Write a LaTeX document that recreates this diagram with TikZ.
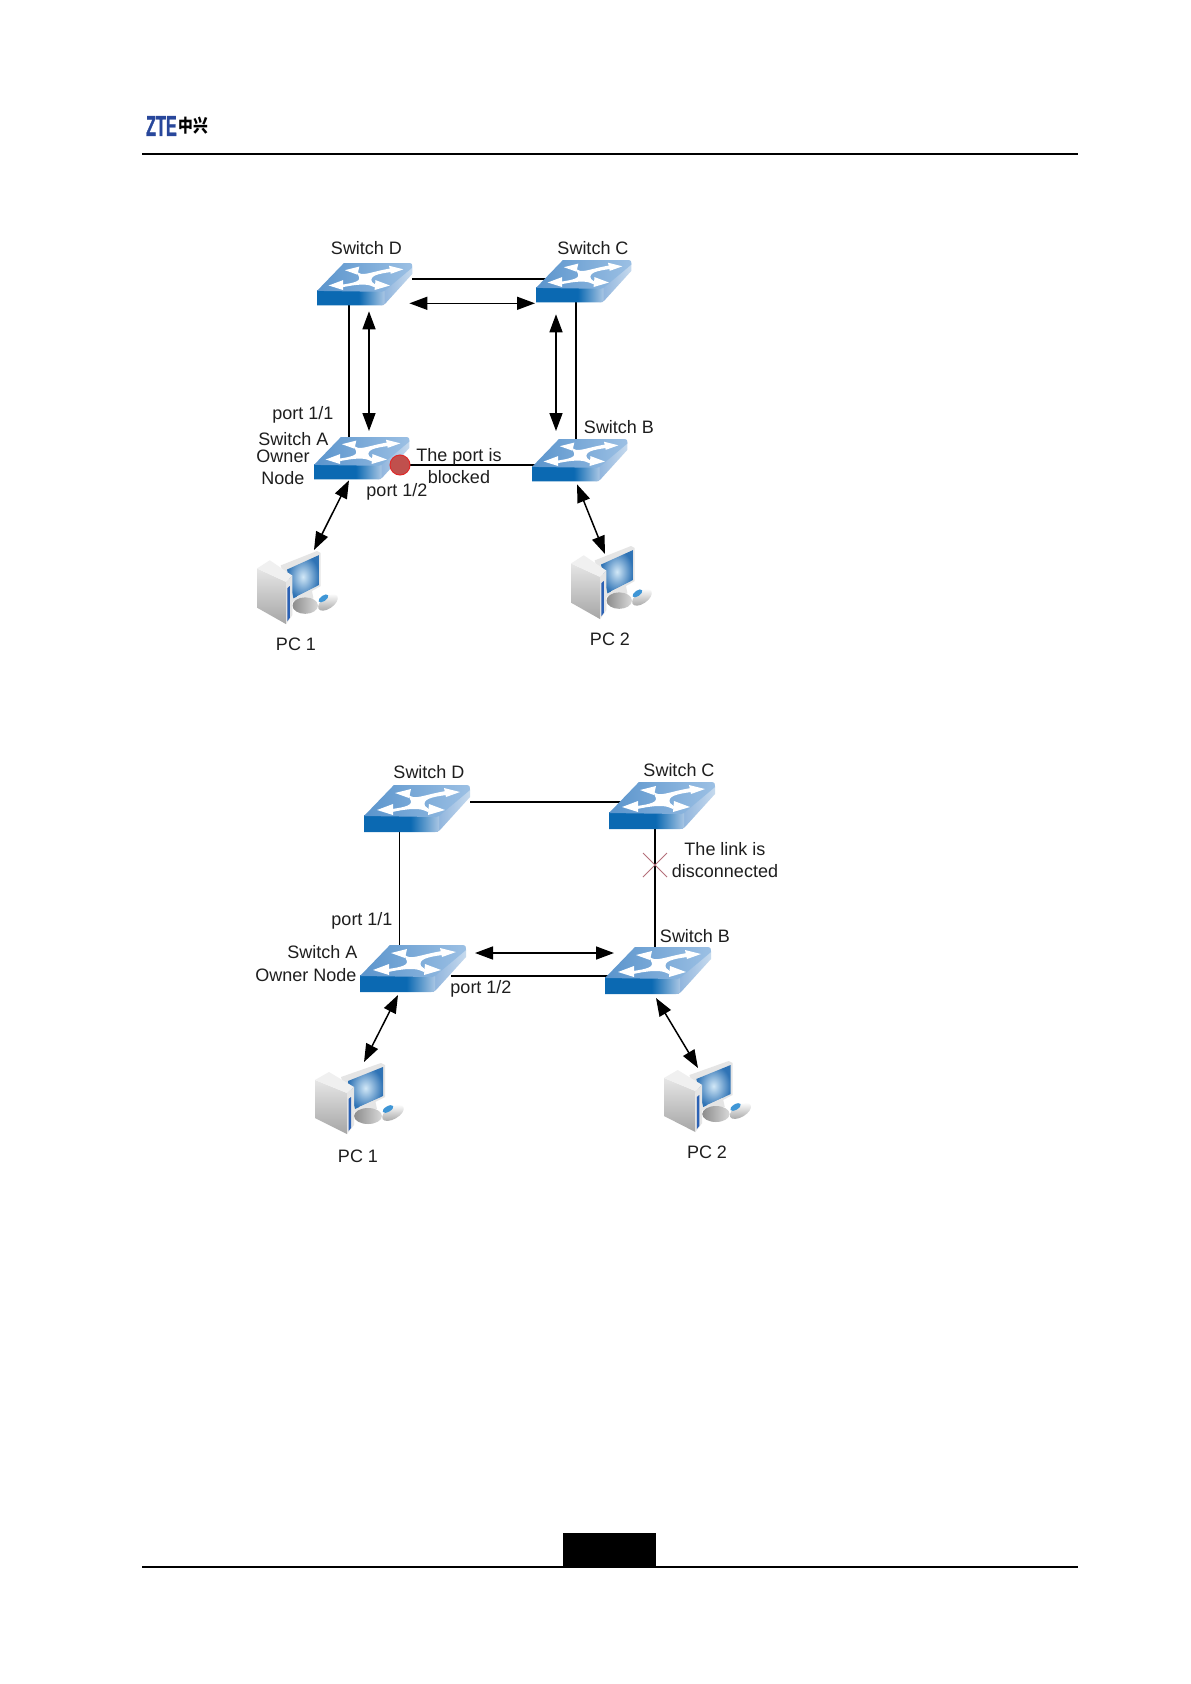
\documentclass[tikz,border=0pt]{standalone}
\usepackage{fontspec}
\setmainfont{Liberation Sans}
\newfontfamily\cjkfont{Noto Sans CJK SC}
\newfontfamily\logofont[UprightFont={* Bold},FakeBold=1.5]{Liberation Sans}
\usetikzlibrary{arrows.meta,calc}
\definecolor{lbl}{HTML}{1E1E1E}
\definecolor{swTopA}{HTML}{5A94CC}
\definecolor{swTopB}{HTML}{9CC0E4}
\definecolor{swFrontA}{HTML}{0B69B2}
\definecolor{swFrontB}{HTML}{A9C6E4}
\definecolor{swSideA}{HTML}{86AEDA}
\definecolor{swSideB}{HTML}{C6DAEE}
\definecolor{pcGlow}{HTML}{D2E8F7}
\definecolor{pcBlue}{HTML}{2F73B5}
\definecolor{pcStripe}{HTML}{2C62B5}
\definecolor{pcMouse}{HTML}{3F96D6}
\definecolor{logoblue}{HTML}{28479B}
\definecolor{xred}{HTML}{B5707A}
\definecolor{dotred}{HTML}{C0504D}
\definecolor{dotrim}{HTML}{E02A2A}
\pgfdeclarehorizontalshading{swfront}{100bp}{color(0bp)=(swFrontA);color(25bp)=(swFrontA);color(56bp)=(swFrontA);color(75bp)=(swFrontB);color(100bp)=(swFrontB)}
\tikzset{
  lab/.style={text=lbl,font=\fontsize{18}{20}\selectfont,inner sep=0pt},
  swbox/.style={anchor=north west,inner sep=0pt,outer sep=0pt,minimum width=#1*106pt,minimum height=#1*47pt},
  pcbox/.style={anchor=north west,inner sep=0pt,outer sep=0pt,minimum width=88pt,minimum height=71pt},
  link/.style={draw=black,line width=1.5pt},
  flow/.style={draw=black,line width=1.5pt,{Triangle[length=18pt,width=13pt]}-{Triangle[length=18pt,width=13pt]}},
  rulebar/.style={draw=black,line width=2.8pt},
}
\newcommand{\swicon}[2]{%
 \begin{scope}[shift={(#1.north west)},scale=#2]
  \path[left color=swSideA,right color=swSideB] (68,32) -- (104,2) .. controls (106,1) and (106,2) .. (106,5) -- (106,12) -- (76,45) .. controls (74,47) and (73,47) .. (71,47) -- cycle;
  \path[shading=swfront] (0,30) -- (75,30) -- (75,45) .. controls (74,47) and (73,47) .. (71,47) -- (0,47) -- cycle;
  \path[left color=swTopA,right color=swTopB] (0,31) -- (28,2) .. controls (29,0) and (30,0) .. (32,0) -- (102,0) .. controls (106,0) and (106,2) .. (106,5) -- (75,31) .. controls (74,32) and (73,32) .. (72,32) -- cycle;
  \fill[white] (44,9) .. controls (50,16) and (58,10) .. (82,6) -- (82,10) .. controls (68,12) and (58,14) .. (61,21) -- (66,25) -- (64,27) .. controls (58,24) and (52,22) .. (28,27) -- (28,24) .. controls (42,22) and (50,20) .. (46,14) -- cycle;
  \fill[white] (96,7) -- (80,3) -- (82,12) -- cycle;
  \fill[white] (13,25) -- (29,19) -- (29,30) -- cycle;
  \fill[white] (31,8) -- (47,4) -- (45,13) -- cycle;
  \fill[white] (81,25) -- (65,19) -- (64,30) -- cycle;
 \end{scope}}
\newcommand{\pcicon}[3]{%
 \begin{scope}[shift={(#1.north west)},xscale=#2,yscale=#3]
  \fill[black!10] (26,14) -- (66,0) -- (70,2) -- (70,34) -- (38,50) -- cycle;
  \path[inner color=pcGlow,outer color=pcBlue] (33,18) -- (68,4) -- (68,33) -- (40,46) -- cycle;
  \fill[black!10] (44,44) -- (60,37) -- (62,46) -- (46,52) -- cycle;
  \path[left color=black!45,right color=black!15] (53,53) ellipse (14 and 8);
  \path[top color=black!10,bottom color=black!35] (0,17) -- (32,30) -- (32,71) -- (0,55) -- cycle;
  \fill[black!6] (0,17) -- (14,9) -- (39,24) -- (32,30) -- cycle;
  \fill[black!10] (32,30) -- (39,24) -- (39,62) -- (32,71) -- cycle;
  \fill[pcStripe] (33.5,36) -- (36,34) -- (36,65) -- (33.5,68) -- cycle;
  \path[top color=white,bottom color=black!35,rotate around={30:(78,50)}] (78,50) ellipse (12 and 6);
  \fill[pcMouse,rotate around={30:(73,46)}] (73,46) ellipse (6 and 2.8);
 \end{scope}}
\begin{document}
\begin{tikzpicture}[x=1pt,y=-1pt]
\useasboundingbox (0,0) rectangle (1191,1684);
\fill[white] (0,0) rectangle (1191,1684);
% header and footer
\node[inner sep=0pt,anchor=west,text=logoblue,xscale=.56,font=\logofont\fontsize{29}{30}\selectfont] (logoa) at (146,126) {ZTE};
\node[inner sep=0pt,anchor=west,xscale=.82,font=\cjkfont\bfseries\fontsize{18}{19}\selectfont] (logob) at (178.5,126) {中兴};
\coordinate (hl) at (142,154); \coordinate (hr) at (1078,154);
\draw[rulebar] (hl) -- (hr);
\coordinate (fl) at (142,1567); \coordinate (fr) at (1078,1567);
\draw[rulebar] (fl) -- (fr);
\fill[black] (563,1533) rectangle (656,1567);
% --- upper diagram: nodes
\node[swbox=0.9] (dU) at (317,263) {};
\node[swbox=0.9] (cU) at (536,260) {};
\node[swbox=0.9] (aU) at (314,437) {};
\node[swbox=0.9] (bU) at (532,439) {};
\node[pcbox] (pU) at (257,551) {};
\node[pcbox] (qU) at (571,546) {};
\coordinate (dot) at (400,465);
% links under the switches
\draw[link] ([yshift=-16pt]dU.north east) -- ([yshift=-19pt,xshift=12pt]cU.north west);
\draw[link] ([xshift=32pt]dU.south west) -- ([xshift=35pt,yshift=-5pt]aU.north west);
\draw[link] ([xshift=40pt]cU.south west) -- ([xshift=44pt,yshift=-5pt]bU.north west);
\draw[link] (dot) -- ([yshift=-26pt,xshift=5pt]bU.north west);
\swicon{dU}{0.9}\swicon{cU}{0.9}\swicon{aU}{0.9}\swicon{bU}{0.9}
\pcicon{pU}{0.91}{1.03}\pcicon{qU}{0.91}{1.03}
\node[circle,draw=dotrim,fill=dotred,line width=1pt,minimum size=20pt,inner sep=0pt] (dotn) at (dot) {};
\draw[flow] ([xshift=-3pt,yshift=2pt]dU.south east) -- ([xshift=-1pt,yshift=-1pt]cU.south west);
\draw[flow] ([xshift=52pt,yshift=-6pt]dU.south west) -- ([xshift=55pt,yshift=6pt]aU.north west);
\draw[flow] ([xshift=20pt,yshift=-12pt]cU.south west) -- ([xshift=24pt,yshift=8pt]bU.north west);
\draw[flow] ([xshift=35pt,yshift=-1pt]aU.south west) -- ([xshift=57pt,yshift=1pt]pU.north west);
\draw[flow] ([xshift=45pt,yshift=-3pt]bU.south west) -- ([xshift=34pt,yshift=-8pt]qU.north west);
\node[lab] (t1) at (366.5,248) {Switch D};
\node[lab] (t2) at (593,248) {Switch C};
\node[lab] (t3) at (303,415) {port 1/1};
\node[lab] (t4) at (293.5,439) {Switch A};
\node[lab] (t5) at (283,456) {Owner};
\node[lab] (t6) at (283,478) {Node};
\node[lab] (t7) at (459,457) {The port is};
\node[lab] (t8) at (459,477) {blocked};
\node[lab] (t9) at (397,492) {port 1/2};
\node[lab] (t10) at (619,427) {Switch B};
\node[lab] (t11) at (296,644) {PC 1};
\node[lab] (t12) at (610,639) {PC 2};
% --- lower diagram: nodes
\node[swbox=1] (dL) at (364,785) {};
\node[swbox=1] (cL) at (609,782) {};
\node[swbox=1] (aL) at (360,945) {};
\node[swbox=1] (bL) at (605,947) {};
\node[pcbox] (pL) at (315,1063) {};
\node[pcbox] (qL) at (664,1061) {};
\draw[link] ([yshift=-17pt]dL.north east) -- ([yshift=-20pt,xshift=12pt]cL.north west);
\draw[link] ([xshift=35.5pt]dL.south west) -- ([xshift=39.5pt,yshift=-5pt]aL.north west);
\draw[link] ([xshift=46pt]cL.south west) -- ([xshift=50pt,yshift=-5pt]bL.north west);
\draw[link] ([yshift=-31pt,xshift=-15pt]aL.north east) -- ([yshift=-29pt,xshift=5pt]bL.north west);
\swicon{dL}{1}\swicon{cL}{1}\swicon{aL}{1}\swicon{bL}{1}
\pcicon{pL}{1}{1}\pcicon{qL}{0.98}{1}
\coordinate (xc) at (655,865);
\draw[xred,line width=1pt] ([shift={(-12pt,12pt)}]xc) -- ([shift={(12pt,-12pt)}]xc);
\draw[xred,line width=1pt] ([shift={(-12pt,-12pt)}]xc) -- ([shift={(12pt,12pt)}]xc);
\draw[flow] ([xshift=9pt,yshift=-8pt]aL.north east) -- ([xshift=9pt,yshift=-6pt]bL.north west);
\draw[flow] ([xshift=38pt,yshift=-3pt]aL.south west) -- ([xshift=49pt,yshift=1pt]pL.north west);
\draw[flow] ([xshift=51pt,yshift=-4pt]bL.south west) -- ([xshift=34pt,yshift=-7pt]qL.north west);
\node[lab] (u1) at (429,772) {Switch D};
\node[lab] (u2) at (679,770) {Switch C};
\node[lab] (u3) at (725,849) {The link is};
\node[lab] (u4) at (725,871) {disconnected};
\node[lab] (u5) at (362,921) {port 1/1};
\node[lab] (u6) at (322.5,952) {Switch A};
\node[lab] (u7) at (306,975) {Owner Node};
\node[lab] (u8) at (481,989) {port 1/2};
\node[lab] (u9) at (695,936) {Switch B};
\node[lab] (u10) at (358,1156) {PC 1};
\node[lab] (u11) at (707,1152) {PC 2};
\end{tikzpicture}
\end{document}
